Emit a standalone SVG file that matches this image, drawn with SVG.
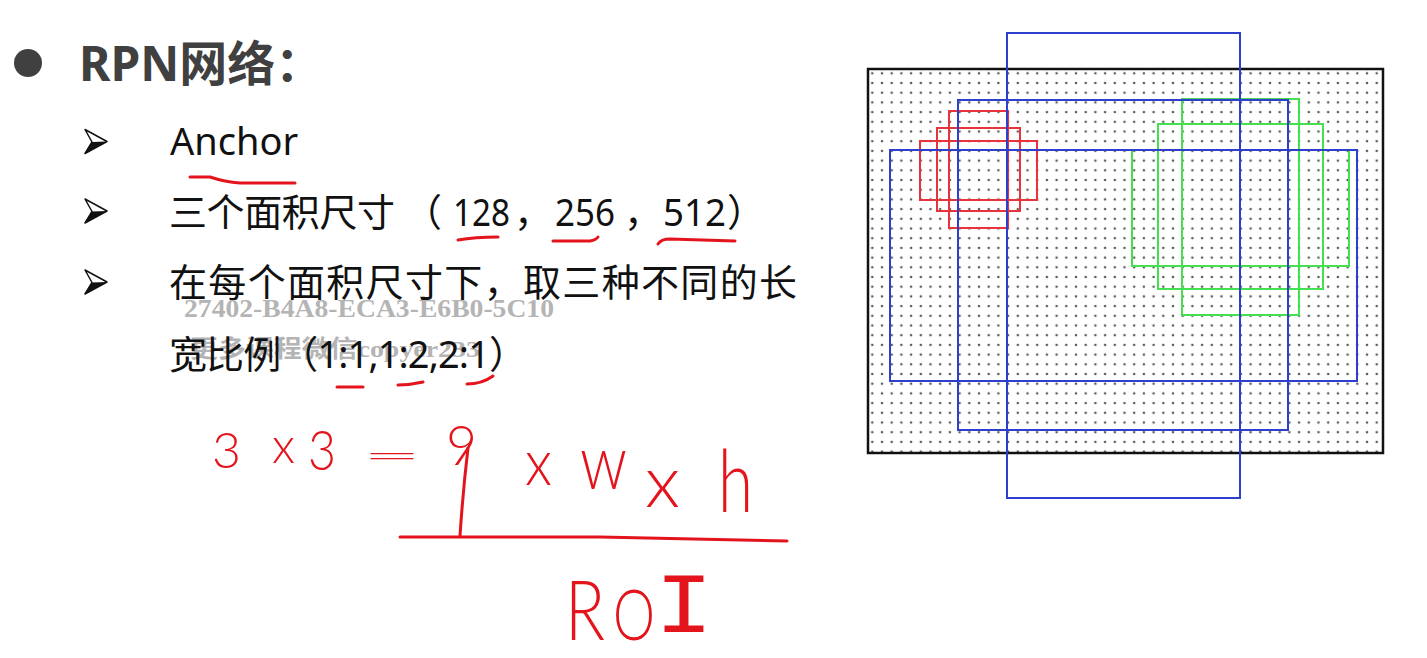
<svg xmlns="http://www.w3.org/2000/svg" width="1427" height="658" viewBox="0 0 1427 658">
<style>
.t{font-family:"Noto Sans","Noto Sans CJK SC",sans-serif;font-size:38px;fill:#111}
.ttl{font-family:"Noto Sans","Noto Sans CJK SC",sans-serif;font-size:48px;font-weight:bold;fill:#404040}
.wm{font-family:"Liberation Serif","Noto Sans CJK SC",serif;font-weight:bold;fill:#b4b4b4}
.hw{font-family:"Lato","Liberation Sans",sans-serif;font-weight:300;fill:#e3141c}
.ul{fill:none;stroke:#e3141c;stroke-width:3;stroke-linecap:round;stroke-linejoin:round}
.r{fill:none;stroke:#e8323c;stroke-width:2}
.g{fill:none;stroke:#45e04f;stroke-width:2}
.b{fill:none;stroke:#2d3fcc;stroke-width:2}
</style>
<defs>
<pattern id="dots" patternUnits="userSpaceOnUse" x="867.45" y="68.45" width="9.7" height="9.7">
<circle cx="4.85" cy="4.85" r="1.3" fill="#5a5a5a"/>
</pattern>
</defs>
<rect width="1427" height="658" fill="#fff"/>

<g id="watermark">
<text class="wm" x="184" y="317" font-size="25" textLength="370" lengthAdjust="spacingAndGlyphs">27402-B4A8-ECA3-E6B0-5C10</text>
<text class="wm" x="190" y="357" font-size="24" font-weight="normal" textLength="290" lengthAdjust="spacingAndGlyphs">更多课程微信copyer233</text>
</g>

<g id="title">
<circle cx="28" cy="63" r="14" fill="#404040"/>
<text class="ttl" x="79" y="81">RPN网络：</text>
</g>

<g id="bullets">
<g id="b1"><path d="M107 141.5 L85 129.5 L92 142 L85 153.5 Z" fill="#fff" stroke="#111" stroke-width="1.5" stroke-linejoin="round"/><path d="M107 141.5 L92 142 L85 153.5 Z" fill="#111"/></g>
<g id="b2"><path d="M107 211 L85 199 L92 211.5 L85 223 Z" fill="#fff" stroke="#111" stroke-width="1.5" stroke-linejoin="round"/><path d="M107 211 L92 211.5 L85 223 Z" fill="#111"/></g>
<g id="b3"><path d="M107 282 L85 270 L92 282.5 L85 294 Z" fill="#fff" stroke="#111" stroke-width="1.5" stroke-linejoin="round"/><path d="M107 282 L92 282.5 L85 294 Z" fill="#111"/></g>
</g>

<g id="items">
<text class="t" x="170" y="155" font-size="39">Anchor</text>
<text class="t" y="226"><tspan x="169" textLength="226" lengthAdjust="spacing">三个面积尺寸</tspan><tspan x="404">（</tspan><tspan x="453" textLength="57" lengthAdjust="spacingAndGlyphs">128</tspan><tspan x="514">，</tspan><tspan x="555" textLength="60" lengthAdjust="spacingAndGlyphs">256</tspan><tspan x="624">，</tspan><tspan x="663" textLength="63" lengthAdjust="spacingAndGlyphs">512</tspan><tspan x="727">）</tspan></text>
<text class="t" x="169" y="296" textLength="628" lengthAdjust="spacing">在每个面积尺寸下，取三种不同的长</text>
<text class="t" x="169" y="368" textLength="358" lengthAdjust="spacing">宽比例（1:1,1:2,2:1）</text>
</g>

<g id="underlines">
<path class="ul" d="M190 177 L210 177 Q225 182 240 183 L295 183"/>
<path class="ul" d="M458 240 Q475 237 498 237"/>
<path class="ul" d="M553 241 L590 241 Q596 240 598 237"/>
<path class="ul" d="M658 244 Q661 239 670 239 L735 241"/>
<path class="ul" d="M337 387 L363 387"/>
<path class="ul" d="M398 385 Q410 385 423 382"/>
<path class="ul" d="M467 384 Q482 384 493 376"/>
</g>

<g id="formula">
<text class="hw" x="212" y="468" font-size="49" textLength="29" lengthAdjust="spacingAndGlyphs">3</text>
<text class="hw" x="272" y="463" font-size="50" textLength="23" lengthAdjust="spacingAndGlyphs">x</text>
<text class="hw" x="308" y="470" font-size="56" textLength="28" lengthAdjust="spacingAndGlyphs">3</text>
<text class="hw" x="362" y="467" font-size="34" textLength="60" lengthAdjust="spacingAndGlyphs">=</text>
<text class="hw" x="446" y="465" font-size="56" textLength="31" lengthAdjust="spacingAndGlyphs">9</text>
<text class="hw" x="525" y="485" font-size="66" textLength="27" lengthAdjust="spacingAndGlyphs">x</text>
<text class="hw" x="580" y="489" font-size="76" textLength="47" lengthAdjust="spacingAndGlyphs">w</text>
<text class="hw" x="645" y="507" font-size="72" textLength="35" lengthAdjust="spacingAndGlyphs">x</text>
<text class="hw" x="718" y="512" font-size="86" textLength="35" lengthAdjust="spacingAndGlyphs">h</text>
<path class="ul" d="M468 448 Q463 490 460 536"/>
<path class="ul" d="M400 537 L600 537 Q700 539 787 541"/>
<text class="hw" x="565" y="640" font-size="82" textLength="40" lengthAdjust="spacingAndGlyphs">R</text>
<text class="hw" x="613" y="640" font-size="70" textLength="42" lengthAdjust="spacingAndGlyphs">O</text>
<text x="655" y="632" font-family="Liberation Mono,monospace" font-size="86" fill="#e3141c" textLength="58" lengthAdjust="spacingAndGlyphs">I</text>
</g>

<g id="anchor-figure">
<rect x="868" y="69" width="515" height="384" fill="#fff"/>
<rect x="869" y="70" width="513" height="382" fill="url(#dots)"/>
<g id="red-anchors">
<rect class="r" x="949" y="111" width="59" height="117"/>
<rect class="r" x="937" y="128" width="83" height="83"/>
<rect class="r" x="920" y="141" width="117" height="59"/>
</g>
<g id="green-anchors">
<rect class="g" x="1182" y="99" width="117" height="216"/>
<rect class="g" x="1158" y="124" width="165" height="165"/>
<rect class="g" x="1132" y="150" width="217" height="116"/>
</g>
<rect x="868" y="69" width="515" height="384" fill="none" stroke="#111" stroke-width="2.5"/>
<g id="blue-anchors">
<rect class="b" x="1007" y="33" width="233" height="465"/>
<rect class="b" x="958" y="100" width="330" height="330"/>
<rect class="b" x="890" y="150" width="467" height="231"/>
</g>
</g>
</svg>
